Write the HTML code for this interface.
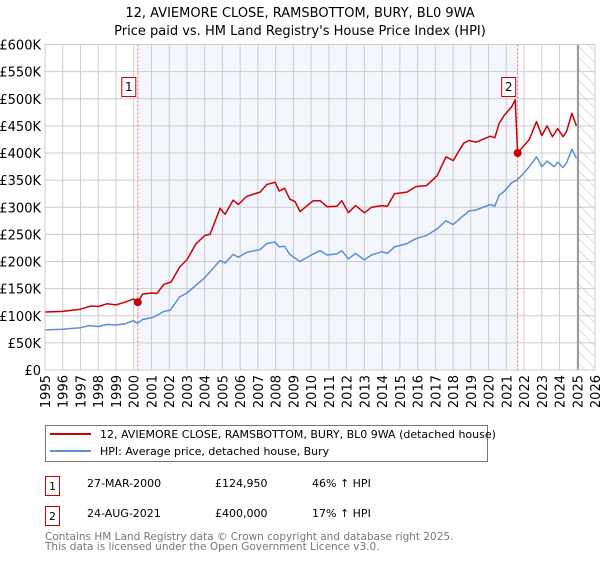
<!DOCTYPE html>
<html><head><meta charset="utf-8"><style>
body{margin:0;background:#fff;font-family:"DejaVu Sans","Liberation Sans",sans-serif}
svg text{font-family:"DejaVu Sans","Liberation Sans",sans-serif}
</style></head><body>
<svg id="chart" width="600" height="560" xmlns="http://www.w3.org/2000/svg">
<defs><pattern id="hatch" patternUnits="userSpaceOnUse" width="8" height="8" patternTransform="rotate(-45)"><line x1="0" y1="0" x2="0" y2="8" stroke="#bbb" stroke-width="1"/></pattern></defs>
<text x="300" y="17" text-anchor="middle" font-size="13">12, AVIEMORE CLOSE, RAMSBOTTOM, BURY, BL0 9WA</text>
<text x="300" y="35" text-anchor="middle" font-size="13">Price paid vs. HM Land Registry's House Price Index (HPI)</text>
<g id="plot"></g>
<g>
<rect x="45.5" y="425.5" width="442" height="36" fill="#fff" stroke="#777"/>
<line x1="50" y1="434" x2="91" y2="434" stroke="#cc0000" stroke-width="2"/>
<text x="100" y="438" font-size="11">12, AVIEMORE CLOSE, RAMSBOTTOM, BURY, BL0 9WA (detached house)</text>
<line x1="50" y1="451" x2="91" y2="451" stroke="#5b8fd6" stroke-width="2"/>
<text x="100" y="455" font-size="11">HPI: Average price, detached house, Bury</text>
</g>
<g font-size="11">
<rect x="45.5" y="476.5" width="14" height="19" fill="#fff" stroke="#cc0000"/>
<text x="52.5" y="490" text-anchor="middle">1</text>
<text x="87" y="487">27-MAR-2000</text><text x="215" y="487">£124,950</text><text x="312" y="487">46% ↑ HPI</text>
<rect x="45.5" y="506.5" width="14" height="19" fill="#fff" stroke="#cc0000"/>
<text x="52.5" y="520" text-anchor="middle">2</text>
<text x="87" y="517">24-AUG-2021</text><text x="215" y="517">£400,000</text><text x="312" y="517">17% ↑ HPI</text>
</g>
<text x="45" y="540" font-size="10.5" fill="#777">Contains HM Land Registry data © Crown copyright and database right 2025.</text>
<text x="45" y="550" font-size="10.5" fill="#777">This data is licensed under the Open Government Licence v3.0.</text>
</svg>
<script>
const hpiYears=[1995,1996,1997,1997.5,1998,1998.5,1999,1999.5,2000,2000.2,2000.5,2001.1,2001.7,2002.05,2002.6,2003,2004,2004.87,2005.15,2005.6,2005.9,2006.37,2007.12,2007.5,2007.97,2008.2,2008.5,2008.8,2009.37,2010.12,2010.5,2010.9,2011.45,2011.73,2012.1,2012.5,2013.0,2013.4,2014,2014.3,2014.7,2015.4,2015.9,2016.5,2017.1,2017.6,2018,2018.6,2018.9,2019.3,2020.1,2020.35,2020.6,2020.9,2021.3,2021.6,2021.9,2022.3,2022.7,2023.0,2023.3,2023.7,2023.9,2024.2,2024.4,2024.7,2024.95];
const hpiValues=[74,75,78,82,80,84,83,85,91,86,93,97,108,110,135,142,170,202,197,213,208,217,222,233,236,227,228,213,200,214,220,212,214,220,205,215,203,212,218,215,227,233,242,248,260,275,268,285,293,295,305,302,322,330,345,350,360,375,393,375,385,375,383,373,382,407,390];
const redYears=[1995,1996,1997,1997.6,1998,1998.5,1999,1999.5,2000,2000.23,2000.5,2001,2001.3,2001.7,2002.1,2002.6,2003,2003.5,2004,2004.3,2004.87,2005.15,2005.6,2005.9,2006.37,2007.12,2007.5,2007.97,2008.2,2008.5,2008.8,2009.1,2009.37,2010.12,2010.5,2010.9,2011.45,2011.73,2012.1,2012.5,2013.0,2013.4,2014,2014.3,2014.7,2015.4,2015.9,2016.5,2017.1,2017.6,2018,2018.6,2018.9,2019.3,2020.1,2020.35,2020.6,2020.9,2021.3,2021.5,2021.64,2021.9,2022.3,2022.7,2023.0,2023.3,2023.6,2023.9,2024.2,2024.4,2024.7,2024.95];
const redValues=[107,108,112,118,117,122,120,125,131,125,140,142,141,158,162,190,203,232,248,250,298,287,313,305,320,328,342,346,330,335,315,310,292,312,312,301,302,312,290,303,290,300,303,302,325,328,338,340,358,393,386,418,423,420,431,428,455,470,485,498,400,410,425,458,432,450,430,445,430,440,473,450];
const saleYears=[2000.23,2021.64];
const saleValues=[124.95,400];
const saleLabels=["1","2"];
const yTicks=[0,50,100,150,200,250,300,350,400,450,500,550,600];
const yTickLabels=["£0","£50K","£100K","£150K","£200K","£250K","£300K","£350K","£400K","£450K","£500K","£550K","£600K"];
const xTicks=[1995,1996,1997,1998,1999,2000,2001,2002,2003,2004,2005,2006,2007,2008,2009,2010,2011,2012,2013,2014,2015,2016,2017,2018,2019,2020,2021,2022,2023,2024,2025,2026];
const L=45,R=595,T=44.5,B=370,X0=1995,X1=2026,YMAX=600,dataEnd=2025.05;
const sx=v=>L+(v-X0)/(X1-X0)*(R-L);
const sy=v=>B-v/YMAX*(B-T);
const NS="http://www.w3.org/2000/svg";
const g=document.getElementById('plot');
function mk(t,a,p){const e=document.createElementNS(NS,t);for(const k in a)e.setAttribute(k,a[k]);(p||g).appendChild(e);return e;}
let e;
e=mk('rect',{x:L,y:T,width:R-L,height:B-T,fill:'#fff'});


e=mk('rect',{x:sx(saleYears[0]),y:T,width:sx(saleYears[1])-sx(saleYears[0]),height:B-T,fill:'#eef3fc',opacity:0.7});


e=mk('rect',{x:sx(dataEnd),y:T,width:R-sx(dataEnd),height:B-T,fill:'url(#hatch)'});


yTicks.forEach((v,i)=>{
 e=mk('line',{x1:L,x2:R,y1:sy(v),y2:sy(v),stroke:'#ccc'});
 
 
 e=mk('text',{x:L-4,y:sy(v)+5,'text-anchor':'end','font-size':13});
 e.textContent=yTickLabels[i];
 
 
});
xTicks.forEach(v=>{
 e=mk('line',{x1:sx(v),x2:sx(v),y1:T,y2:B,stroke:'#ccc'});
 
 
 e=mk('text',{x:0,y:0,'text-anchor':'end','font-size':13,transform:`translate(${sx(v)+5},${B+5}) rotate(-90)`});
 e.textContent=v;
 
 
});
e=mk('line',{x1:sx(dataEnd),x2:sx(dataEnd),y1:T,y2:B,stroke:'#888','stroke-width':1.5});


saleYears.forEach(v=>{
 e=mk('line',{x1:sx(v),x2:sx(v),y1:T,y2:B,stroke:'#f06060','stroke-dasharray':'2,2'});
 
 
});
function path(xs,ys,c,n){
 const d=xs.map((x,i)=>(i?'L':'M')+sx(x).toFixed(1)+','+sy(ys[i]).toFixed(1)).join('');
 e=mk('path',{d:d,fill:'none',stroke:c,'stroke-width':1.5,'stroke-linejoin':'round'});
 
 
}
path(hpiYears,hpiValues,'#5b8fd6','hpi-line');
path(redYears,redValues,'#cc0000','price-paid-line');
saleYears.forEach((v,i)=>{
 e=mk('circle',{cx:sx(v),cy:sy(saleValues[i]),r:4,fill:'#cc0000'});
 
 
 const bx=sx(v)-16;
 e=mk('rect',{x:bx,y:77.5,width:14,height:19,fill:'#fff',stroke:'#cc0000'});
 
 
 e=mk('text',{x:bx+7,y:91,'text-anchor':'middle','font-size':12});
 e.textContent=saleLabels[i];
 
 
});
e=mk('rect',{x:L,y:T,width:R-L,height:B-T,fill:'none',stroke:'#ccc'});


</script>
</body></html>
